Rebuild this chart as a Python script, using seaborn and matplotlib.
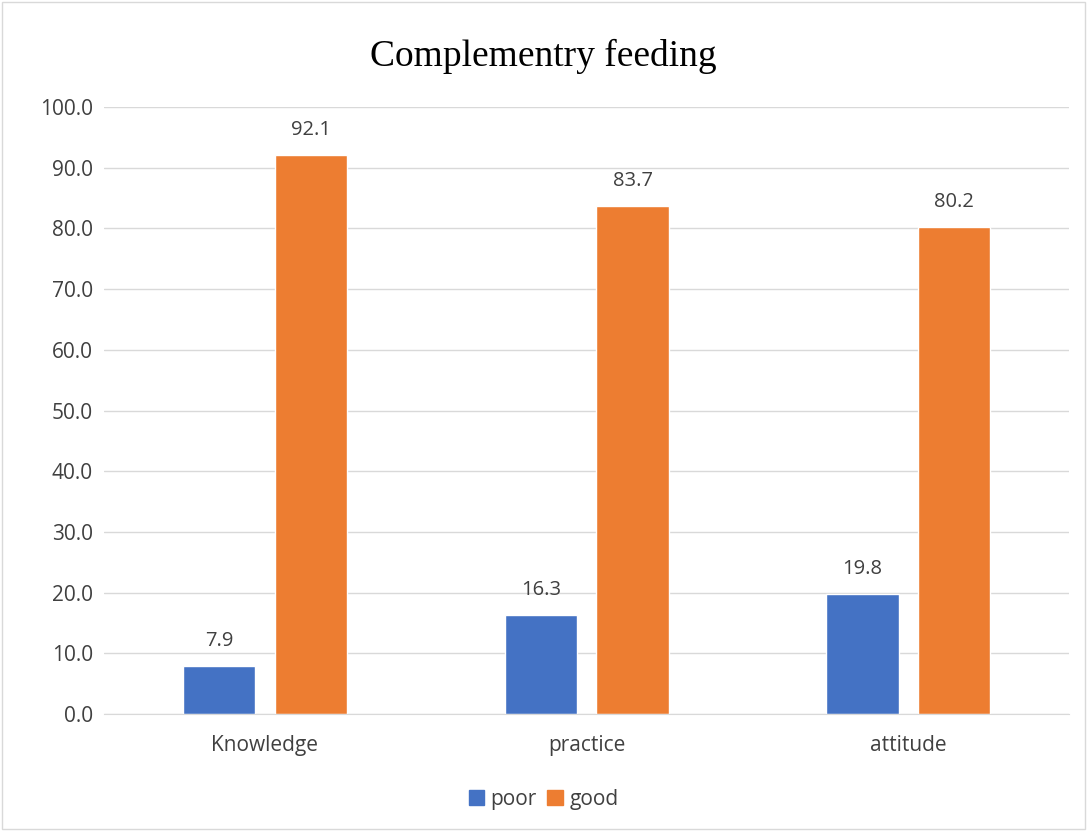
import pandas as pd
import matplotlib.pyplot as plt
import seaborn as sns

# values
categories = ["Knowledge", "practice", "attitude"]
poor = [7.9, 16.3, 19.8]
good = [92.1, 83.7, 80.2]
series = ["poor", "good"]
colors = ["#4472C4", "#ED7D31"]

df = pd.DataFrame({
    "category": categories * 2,
    "level": ["poor"] * 3 + ["good"] * 3,
    "value": poor + good,
})

sns.set_style("white")
plt.rcParams["font.family"] = ["Open Sans", "DejaVu Sans"]

fig = plt.figure(figsize=(10.87, 8.31), dpi=100)
ax = fig.add_axes([0.0957, 0.1408, 0.888, 0.7304])

sns.barplot(data=df, x="category", y="value", hue="level", hue_order=series,
            palette=colors, width=0.57, gap=0.21, saturation=1, ax=ax,
            legend=False)

for cont in ax.containers:
    ax.bar_label(cont, fmt="%.1f", padding=11, fontsize=14.5, color="#404040")

ax.set_ylim(0, 100)
ax.set_yticks(range(0, 101, 10))
ax.set_yticklabels([f"{v:.1f}" for v in range(0, 101, 10)])
ax.yaxis.grid(True, color="#D9D9D9", linewidth=1)
ax.set_axisbelow(True)
for s in ["left", "right", "top"]:
    ax.spines[s].set_visible(False)
ax.spines["bottom"].set_color("#D9D9D9")
ax.tick_params(axis="both", length=0, labelsize=15, colors="#404040", pad=8)
ax.tick_params(axis="x", pad=15)
ax.set_xlabel("")
ax.set_ylabel("")

fig.text(0.5, 0.932, "Complementry feeding", ha="center", va="center",
         fontsize=27, family="Liberation Serif", color="black")

handles = [plt.Rectangle((0, 0), 1, 1, color=c) for c in colors]
fig.legend(handles, series, loc="center", bbox_to_anchor=(0.5, 0.038), ncol=2,
           frameon=False, fontsize=15, handlelength=0.75, handleheight=0.75,
           columnspacing=0.5, handletextpad=0.3, labelcolor="#404040")

# thin frame around the whole chart
fig.patches.append(plt.Rectangle((0.002, 0.002), 0.996, 0.996, fill=False,
                                 edgecolor="#D9D9D9", linewidth=1,
                                 transform=fig.transFigure))

fig.savefig("out.png", dpi=100)
